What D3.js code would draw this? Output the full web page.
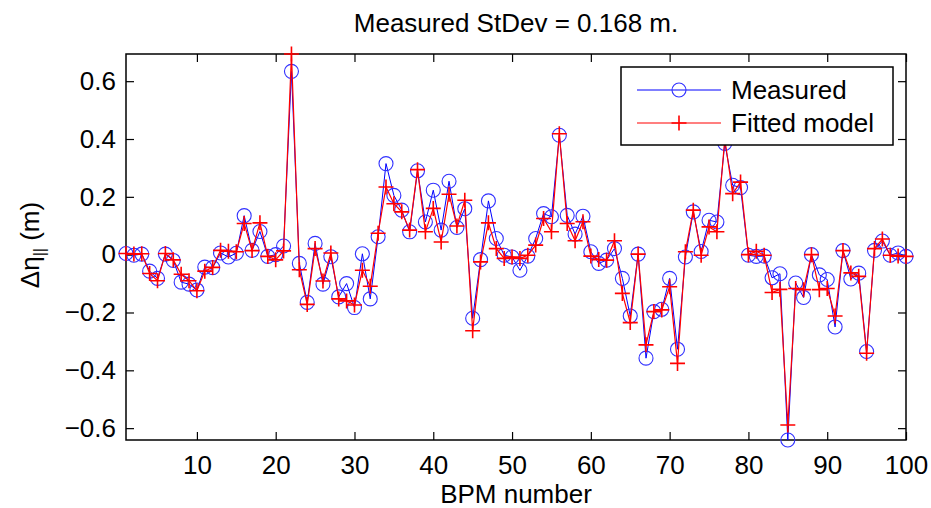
<!DOCTYPE html>
<html>
<head>
<meta charset="utf-8">
<script src="https://cdn.jsdelivr.net/npm/d3@7"></script>
<style>
html,body{margin:0;padding:0;background:#fff;}
svg{display:block;font-family:"Liberation Sans",Arial,Helvetica,sans-serif;}
</style>
</head>
<body>
<svg id="chart" width="931" height="508"></svg>
<script>
const bpm = d3.range(1, 101);
const measured = [
 0.004,-0.002, 0.002,-0.057,-0.082, 0.002,-0.020,-0.095,-0.102,-0.122,
-0.043,-0.045, 0.006,-0.008, 0.005, 0.135, 0.015, 0.080,-0.006, 0.000,
 0.030, 0.634,-0.030,-0.165, 0.039,-0.102,-0.007,-0.146,-0.100,-0.183,
 0.003,-0.153, 0.062, 0.315, 0.205, 0.154, 0.079, 0.290, 0.113, 0.223,
 0.085, 0.254, 0.094, 0.159,-0.220,-0.017, 0.186, 0.056,-0.002,-0.008,
-0.054,-0.005, 0.056, 0.142, 0.131, 0.413, 0.136, 0.071, 0.133, 0.010,
-0.030,-0.019, 0.021,-0.082,-0.212, 0.002,-0.358,-0.197,-0.189,-0.082,
-0.327,-0.008, 0.148, 0.011, 0.119, 0.113, 0.385, 0.240, 0.232,-0.002,
-0.006,-0.005,-0.080,-0.066,-0.641,-0.098,-0.148, 0.000,-0.070,-0.086,
-0.250, 0.014,-0.084,-0.064,-0.335, 0.015, 0.047,-0.002, 0.006,-0.006];
const fitted = [
 0.004, 0.002, 0.003,-0.065,-0.090, 0.004,-0.018,-0.068,-0.090,-0.125,
-0.057,-0.044, 0.015, 0.012, 0.010, 0.108, 0.014, 0.110,-0.006,-0.018,
 0.013, 0.694,-0.052,-0.172, 0.021,-0.091, 0.006,-0.153,-0.160,-0.174,
-0.054,-0.109, 0.074, 0.234, 0.176, 0.148, 0.085, 0.294, 0.079, 0.160,
 0.044, 0.209, 0.099, 0.188,-0.263,-0.025, 0.110, 0.021,-0.013,-0.008,
-0.013,-0.002, 0.033, 0.125, 0.079, 0.418, 0.108, 0.048, 0.114,-0.005,
-0.017,-0.019, 0.048,-0.134,-0.235, 0.002,-0.312,-0.197,-0.191,-0.111,
-0.376, 0.010, 0.154,-0.002, 0.096, 0.079, 0.400, 0.211, 0.251, 0.000,
 0.012,-0.002,-0.131,-0.120,-0.589,-0.117,-0.121, 0.000,-0.121,-0.117,
-0.212, 0.014,-0.063,-0.075,-0.341, 0.021, 0.054,-0.002,-0.005,-0.006];
const xTicks = [10,20,30,40,50,60,70,80,90,100];
const yTicks = [-0.6,-0.4,-0.2,0,0.2,0.4,0.6];
const yDomain = [-0.641, 0.694];
const titleText = "Measured StDev = 0.168 m.";
const xLabel = "BPM number";
const legendNames = ["Measured", "Fitted model"];

const svg = d3.select("#chart");
const m = {l:126, r:25, t:54, b:68};
const W = 931, H = 508;
const x = d3.scaleLinear().domain([1,100]).range([m.l, W-m.r]);
const y = d3.scaleLinear().domain(yDomain).range([H-m.b, m.t]);
const fs = 26;

// frame
svg.append("rect").attr("x",m.l).attr("y",m.t).attr("width",W-m.r-m.l).attr("height",H-m.b-m.t)
  .attr("fill","none").attr("stroke","#000").attr("stroke-width",1.5);

const tl = 8;
const gx = svg.append("g").attr("transform",`translate(0,${H-m.b})`)
  .call(d3.axisBottom(x).tickValues(xTicks).tickFormat(d3.format("d")).tickSizeInner(-tl).tickSizeOuter(0).tickPadding(16));
const gxt = svg.append("g").attr("transform",`translate(0,${m.t})`)
  .call(d3.axisTop(x).tickValues(xTicks).tickFormat("").tickSizeInner(-tl).tickSizeOuter(0));
const gy = svg.append("g").attr("transform",`translate(${m.l},0)`)
  .call(d3.axisLeft(y).tickValues(yTicks).tickFormat(d => d===0 ? "0" : d3.format(".1f")(d).replace("-","\u2212")).tickSizeInner(-tl).tickSizeOuter(0).tickPadding(10));
const gyr = svg.append("g").attr("transform",`translate(${W-m.r},0)`)
  .call(d3.axisRight(y).tickValues(yTicks).tickFormat("").tickSizeInner(-tl).tickSizeOuter(0));
[gx,gxt,gy,gyr].forEach(g=>{
  g.select(".domain").remove();
  g.selectAll(".tick line").attr("stroke","#000").attr("stroke-width",1.2);
  g.selectAll("text").attr("font-size",fs).attr("fill","#000").attr("font-family","'Liberation Sans',Arial,sans-serif");
});

// lines
const lineM = d3.line().x((d,i)=>x(bpm[i])).y(d=>y(d));
svg.append("path").datum(measured).attr("d",lineM).attr("fill","none").attr("stroke","#0000ff").attr("stroke-width",1);
svg.append("g").selectAll("circle").data(measured).join("circle")
  .attr("cx",(d,i)=>x(bpm[i])).attr("cy",d=>y(d)).attr("r",7)
  .attr("fill","none").attr("stroke","#3030ff").attr("stroke-width",1.1);
svg.append("path").datum(fitted).attr("d",lineM).attr("fill","none").attr("stroke","#ff0000").attr("stroke-width",1.2);
const cs = 7.5;
svg.append("g").selectAll("path").data(fitted).join("path")
  .attr("d",(d,i)=>{const cx=x(bpm[i]), cy=y(d); return `M${cx-cs},${cy}H${cx+cs}M${cx},${cy-cs}V${cy+cs}`;})
  .attr("fill","none").attr("stroke","#ff0000").attr("stroke-width",1.6);

// title & labels
svg.append("text").attr("x",(m.l+W-m.r)/2).attr("y",32).attr("text-anchor","middle")
  .attr("font-size",fs).text(titleText);
svg.append("text").attr("x",(m.l+W-m.r)/2).attr("y",503).attr("text-anchor","middle")
  .attr("font-size",fs).text(xLabel);
const yl = svg.append("text").attr("transform","translate(39,245) rotate(-90)").attr("text-anchor","middle").attr("font-size",fs);
yl.append("tspan").text("\u0394\u03b7");
yl.append("tspan").attr("font-size",16).attr("dy",6).text("||");
yl.append("tspan").attr("dy",-6).text(" (m)");

// legend
const lg = svg.append("g");
lg.append("rect").attr("x",621).attr("y",67).attr("width",272).attr("height",78)
  .attr("fill","#fff").attr("stroke","#000").attr("stroke-width",1.5);
const rows = [{y:90, c:"#0000ff"},{y:123, c:"#ff0000"}];
rows.forEach((r,k)=>{
  lg.append("line").attr("x1",637).attr("x2",721).attr("y1",r.y).attr("y2",r.y).attr("stroke",r.c).attr("stroke-width",k?1.2:1);
  if(k===0){
    lg.append("circle").attr("cx",679).attr("cy",r.y).attr("r",7).attr("fill","none").attr("stroke","#3030ff").attr("stroke-width",1.1);
  } else {
    lg.append("path").attr("d",`M${679-cs},${r.y}H${679+cs}M679,${r.y-cs}V${r.y+cs}`).attr("stroke","#ff0000").attr("stroke-width",1.6);
  }
  lg.append("text").attr("x",731).attr("y",r.y+9).attr("font-size",fs).text(legendNames[k]);
});
</script>
</body>
</html>
